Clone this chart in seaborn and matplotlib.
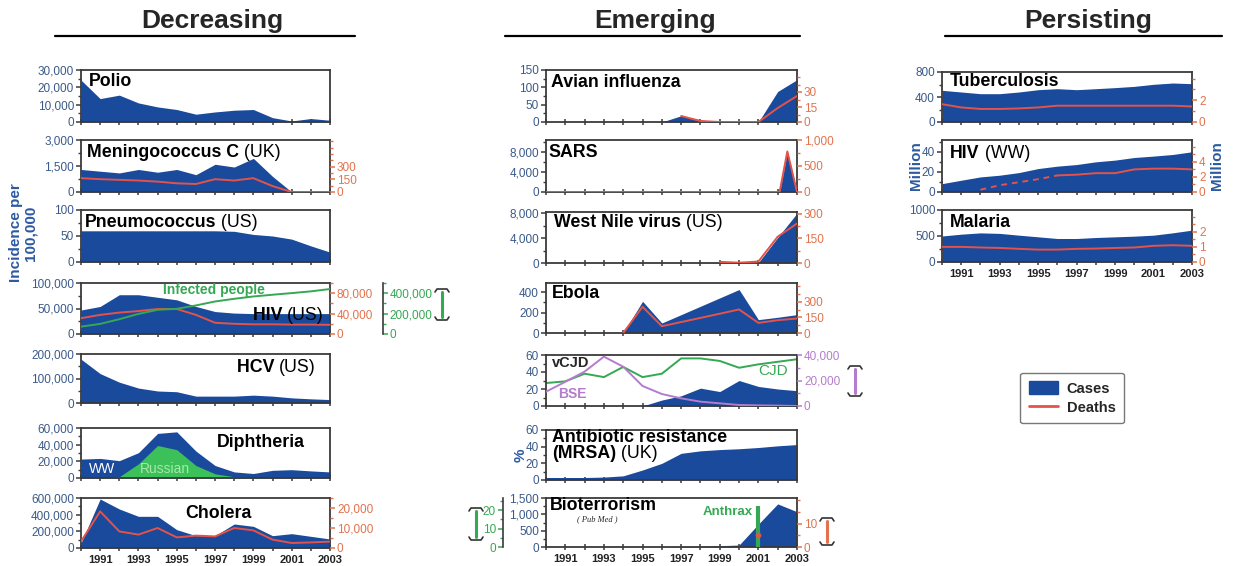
import matplotlib
matplotlib.use("Agg")
import matplotlib.pyplot as plt
import seaborn as sns
from matplotlib.ticker import FuncFormatter, MultipleLocator, AutoMinorLocator
from matplotlib.lines import Line2D
from matplotlib.patches import Patch
from matplotlib.text import Annotation

# ---------------- data ----------------
years = list(range(1990, 2004))
year_ticks = [1991, 1993, 1995, 1997, 1999, 2001, 2003]

polio_cases = [24200, 13500, 15500, 11000, 8700, 7200, 4500, 5800, 6800, 7200, 2500, 600, 2000, 1000]
mening_cases = [1300, 1200, 1100, 1300, 1140, 1300, 1000, 1600, 1440, 1940, 900, 0, 0, 0]
mening_deaths = [164, 152, 144, 136, 123, 103, 95, 152, 136, 164, 70, 0, 0, 0]
pneumo_cases = [60, 60, 60, 60, 60, 60, 60, 60, 59, 53, 50, 44, 31, 19]
hivus_cases = [47000, 54000, 77000, 77000, 72000, 67000, 54000, 44000, 41000, 40000, 40000, 40000, 40000, 40000]
hivus_deaths = [31000, 37500, 42000, 45000, 49000, 49000, 37500, 22000, 20000, 19000, 19000, 18500, 18500, 18000]
hivus_infected = [72000, 99000, 145000, 197000, 237000, 247000, 280000, 319000, 345000, 368000, 385000, 401000, 418000, 441000]
hcv_cases = [179000, 120000, 85000, 61000, 49000, 46000, 28000, 28000, 28000, 32000, 28000, 21000, 17000, 14000]
diph_ww = [22700, 23500, 20800, 30400, 53500, 55400, 32300, 15000, 7300, 5400, 9200, 10000, 8500, 7300]
diph_russian = [0, 0, 1500, 17000, 39000, 34000, 15000, 5000, 1500, 500, 200, 0, 0, 0]
cholera_cases = [60000, 588000, 468000, 380000, 380000, 220000, 148000, 148000, 288000, 260000, 148000, 172000, 140000, 108000]
cholera_deaths = [3300, 18300, 8300, 6700, 10000, 5300, 6200, 5800, 10000, 8800, 4200, 2500, 2800, 3200]

avian_cases = [0, 0, 0, 0, 0, 0, 0, 18, 6, 0, 0, 0, 88, 122]
avian_death_years = [1997, 1998, 1999, 2000, 2001, 2002, 2003]
avian_deaths = [6, 1, 0, 0, 0, 14, 26]
sars_years = [1990, 2002.1, 2002.5, 2003]
sars_cases = [0, 0, 8100, 0]
sars_deaths = [0, 0, 780, 0]
wnv_cases = [0, 0, 0, 0, 0, 0, 0, 0, 0, 60, 20, 70, 4100, 8000]
wnv_death_years = [1999, 2000, 2001, 2002, 2003]
wnv_deaths = [7, 2, 9, 160, 240]
ebola_cases = [0, 0, 0, 0, 0, 311, 98, 180, 262, 344, 426, 131, 154, 180]
ebola_death_years = [1994, 1995, 1996, 1997, 1998, 1999, 2000, 2001, 2002, 2003]
ebola_deaths = [0, 252, 65, 105, 145, 185, 226, 97, 123, 139]
vcjd_cases = [0, 0, 0, 0, 0, 0, 7, 12, 21, 17, 30, 23, 20, 18]
cjd_deaths = [27, 29, 38, 34, 46, 34, 38, 56, 56, 53, 45, 49, 52, 55]
bse_cases = [11200, 19000, 27000, 38700, 30800, 15700, 9400, 6000, 3400, 2100, 800, 500, 300, 0]
mrsa_pct = [3, 3, 3, 3.5, 5, 12, 20, 32, 35, 36.5, 37.5, 39, 41, 42.5]
bio_papers = [0, 0, 0, 0, 0, 0, 0, 10, 20, 40, 60, 700, 1320, 1080]
anthrax_year = [2001]
anthrax_cases = [22]
anthrax_deaths = [5]

tb_cases = [507, 480, 453, 453, 480, 517, 533, 517, 533, 550, 570, 603, 624, 613]
tb_deaths = [1.64, 1.34, 1.2, 1.2, 1.25, 1.34, 1.5, 1.5, 1.5, 1.5, 1.5, 1.5, 1.5, 1.43]
hivww_cases = [8.3, 11.7, 15, 16.7, 19.3, 23.3, 25.7, 27.3, 30, 31.7, 34.3, 35.7, 37.3, 40]
hivww_death_years = [1992, 1993, 1994, 1995, 1996, 1997, 1998, 1999, 2000, 2001, 2002, 2003]
hivww_deaths = [0.3, 0.9, 1.3, 1.7, 2.2, 2.3, 2.5, 2.5, 3.0, 3.1, 3.1, 3.0]
malaria_cases = [500, 535, 560, 550, 516, 484, 452, 452, 471, 484, 497, 516, 561, 613]
malaria_deaths = [1.0, 1.0, 0.96, 0.93, 0.87, 0.82, 0.82, 0.87, 0.89, 0.93, 0.96, 1.07, 1.11, 1.07]

# ---------------- style ----------------
sns.set_theme(style="ticks")
plt.rcParams["font.family"] = ["Liberation Sans", "DejaVu Sans"]

W, H = 1243, 566
fig = plt.figure(figsize=(W / 100, H / 100), dpi=100)
fig.patch.set_facecolor("white")

BLUE = "#1a4a9c"
RED = "#e4534a"
GREEN = "#35a853"
LGREEN = "#3cc05a"
PURPLE = "#b47ccc"
LTICK = "#3a5a8a"
RTICK = "#e2734e"
SPINE = "#3a3a3a"
YLAB = "#2c5aa0"
TSIZE = 12.8

fmt_int = FuncFormatter(lambda v, p: f"{int(round(v)):,}")
fmt_plain = FuncFormatter(lambda v, p: f"{int(round(v))}")


def P(x, y):
    return (x / W, 1 - y / H)


def panel(x0, y0, x1, y1, ylim, yticks, xlabels=False, fmt=fmt_int):
    ax = fig.add_axes([x0 / W, 1 - y1 / H, (x1 - x0) / W, (y1 - y0) / H])
    ax.set_xlim(1990, 2003)
    ax.set_ylim(*ylim)
    ax.set_yticks(yticks)
    ax.yaxis.set_major_formatter(fmt)
    ax.yaxis.set_minor_locator(AutoMinorLocator(2))
    ax.set_xticks(year_ticks)
    ax.xaxis.set_minor_locator(MultipleLocator(1))
    ax.tick_params(axis="x", which="both", direction="inout", length=5, width=1.1,
                   colors=SPINE, labelsize=8, pad=2.5)
    ax.tick_params(axis="y", which="major", direction="out", length=3.5, width=1.1,
                   colors=SPINE, labelcolor=LTICK, labelsize=8.5, pad=1.5)
    ax.tick_params(axis="y", which="minor", direction="out", length=2.5, width=1.0, colors=SPINE)
    if xlabels:
        ax.set_xticklabels([str(y) for y in year_ticks], fontweight="bold", color="#222222")
    else:
        ax.set_xticklabels([])
    for s in ax.spines.values():
        s.set_color(SPINE)
        s.set_linewidth(1.3)
    ax.grid(False)
    ax.set_facecolor("white")
    return ax


def twin(ax, ylim, yticks, color, side="right", offset=None, spine_visible=False):
    r = ax.twinx()
    for s in r.spines.values():
        s.set_visible(False)
    r.grid(False)
    if side == "left":
        r.yaxis.tick_left()
    if offset is not None:
        r.spines[side].set_position(("outward", offset))
    if spine_visible:
        r.spines[side].set_visible(True)
        r.spines[side].set_color(SPINE)
        r.spines[side].set_linewidth(1.2)
    r.set_ylim(*ylim)
    r.set_yticks(yticks)
    r.yaxis.set_major_formatter(fmt_int)
    r.yaxis.set_minor_locator(AutoMinorLocator(2))
    r.tick_params(axis="y", which="major", direction="out", length=3.5, width=1.1,
                  colors=color, labelsize=8.5, pad=1.5)
    r.tick_params(axis="y", which="minor", direction="out", length=2.5, width=1.0, colors=color)
    return r


def line(ax, x, y, color, lw=1.4, ylim=None):
    sns.lineplot(x=x, y=y, ax=ax, color=color, lw=lw)
    ax.set_xlabel("")
    ax.set_ylabel("")
    if ylim is not None:
        ax.set_ylim(*ylim)


def area(ax, x, y, color=BLUE):
    ax.fill_between(x, 0, y, color=color, lw=0, zorder=1)


def title(x, y, bold, reg=None, size=TSIZE, color="black", ha="left"):
    if ha == "left":
        t = fig.text(*P(x, y), bold, fontsize=size, fontweight="bold", ha="left",
                     va="baseline", color=color)
        if reg:
            fig.add_artist(Annotation(reg, xy=(1, 0), xycoords=t, fontsize=size, ha="left",
                                      va="bottom", color=color))
    else:
        t = fig.text(*P(x, y), reg, fontsize=size, ha="right", va="baseline", color=color)
        fig.add_artist(Annotation(bold + " ", xy=(0, 0), xycoords=t, fontsize=size,
                                  fontweight="bold", ha="right", va="bottom", color=color))


def dumbbell(x, y0, y1, color):
    fig.add_artist(Line2D([x / W, x / W], [1 - (y0 + 3) / H, 1 - (y1 - 3) / H],
                          color=color, lw=2.2, transform=fig.transFigure))
    for yy, d in [(y0, 1), (y1, -1)]:
        xs = [x - 7, x - 5, x + 5, x + 7]
        ys = [yy + 3 * d, yy, yy, yy + 3 * d]
        fig.add_artist(Line2D([v / W for v in xs], [1 - v / H for v in ys],
                              color="#333333", lw=1.2, transform=fig.transFigure))


LX0, LX1 = 81, 330
MX0, MX1 = 546, 797
RX0, RX1 = 942, 1192

# ---------------- Decreasing ----------------
ax = panel(LX0, 70, LX1, 122, (0, 30000), [0, 10000, 20000, 30000])
area(ax, years, polio_cases)
title(89, 86, "Polio")

ax = panel(LX0, 140, LX1, 192, (0, 3000), [0, 1500, 3000])
area(ax, years, mening_cases)
r = twin(ax, (0, 616), [0, 150, 300], RTICK)
line(r, years, mening_deaths, RED, ylim=(0, 616))
title(87, 157, "Meningococcus C", " (UK)")

ax = panel(LX0, 210, LX1, 262, (0, 100), [0, 50, 100])
area(ax, years, pneumo_cases)
title(85, 227, "Pneumococcus", " (US)")

ax = panel(LX0, 283, LX1, 334, (0, 100000), [0, 50000, 100000])
area(ax, years, hivus_cases)
r = twin(ax, (0, 100000), [0, 40000, 80000], RTICK)
line(r, years, hivus_deaths, RED, ylim=(0, 100000))
g = twin(ax, (0, 500000), [0, 200000, 400000], GREEN, offset=38, spine_visible=True)
line(g, years, hivus_infected, GREEN, lw=1.4, ylim=(0, 500000))
title(324, 320, "HIV", "(US)", ha="right")
fig.text(*P(163, 294), "Infected people", fontsize=10, fontweight="bold", color=GREEN,
         ha="left", va="baseline")
dumbbell(442, 289, 320, GREEN)

ax = panel(LX0, 354, LX1, 403, (0, 200000), [0, 100000, 200000])
area(ax, years, hcv_cases)
title(316, 372, "HCV", "(US)", ha="right")

ax = panel(LX0, 428, LX1, 478, (0, 60000), [0, 20000, 40000, 60000])
area(ax, years, diph_ww)
area(ax, years, diph_russian, color=LGREEN)
title(217, 447, "Diphtheria")
fig.text(*P(89, 473), "WW", fontsize=10, color="white", ha="left", va="baseline")
fig.text(*P(140, 473), "Russian", fontsize=10, color="#a8e8a8", ha="left", va="baseline")

ax = panel(LX0, 498, LX1, 548, (0, 600000), [0, 200000, 400000, 600000], xlabels=True)
area(ax, years, cholera_cases)
r = twin(ax, (0, 25000), [0, 10000, 20000], RTICK)
line(r, years, cholera_deaths, RED, ylim=(0, 25000))
title(185, 518, "Cholera")

# ---------------- Emerging ----------------
ax = panel(MX0, 70, MX1, 122, (0, 150), [0, 50, 100, 150])
area(ax, years, avian_cases)
r = twin(ax, (0, 52), [0, 15, 30], RTICK)
line(r, avian_death_years, avian_deaths, RED, ylim=(0, 52))
title(551, 87, "Avian influenza")

ax = panel(MX0, 140, MX1, 192, (0, 10300), [0, 4000, 8000])
area(ax, sars_years, sars_cases)
r = twin(ax, (0, 1000), [0, 500, 1000], RTICK)
line(r, sars_years, sars_deaths, RED, ylim=(0, 1000))
title(548, 157, "SARS")

ax = panel(MX0, 212, MX1, 263, (0, 8200), [0, 4000, 8000])
area(ax, years, wnv_cases)
r = twin(ax, (0, 310), [0, 150, 300], RTICK)
line(r, wnv_death_years, wnv_deaths, RED, ylim=(0, 310))
title(554, 227, "West Nile virus", " (US)")

ax = panel(MX0, 283, MX1, 333, (0, 490), [0, 200, 400])
area(ax, years, ebola_cases)
r = twin(ax, (0, 480), [0, 150, 300], RTICK)
line(r, ebola_death_years, ebola_deaths, RED, ylim=(0, 480))
title(552, 298, "Ebola")

ax = panel(MX0, 355, MX1, 406, (0, 60), [0, 20, 40, 60])
area(ax, years, vcjd_cases)
line(ax, years, cjd_deaths, GREEN, lw=1.4, ylim=(0, 60))
r = twin(ax, (0, 40000), [0, 20000, 40000], PURPLE)
line(r, years, bse_cases, PURPLE, lw=1.4, ylim=(0, 40000))
fig.text(*P(552, 367), "vCJD", fontsize=10.5, fontweight="bold", ha="left", va="baseline")
fig.text(*P(758, 375), "CJD", fontsize=11, color=GREEN, ha="left", va="baseline")
fig.text(*P(558, 398), "BSE", fontsize=10, color=PURPLE, fontweight="bold", ha="left", va="baseline")
dumbbell(855, 366, 396, PURPLE)

ax = panel(MX0, 430, MX1, 480, (0, 60), [0, 20, 40, 60])
area(ax, years, mrsa_pct)
title(552, 442, "Antibiotic resistance")
title(552, 458, "(MRSA)", " (UK)")

ax = panel(MX0, 498, MX1, 547, (0, 1500), [0, 500, 1000, 1500], xlabels=True)
area(ax, years, bio_papers)
g = twin(ax, (0, 26.5), [0, 10, 20], GREEN, side="left", offset=31, spine_visible=True)
g.vlines(anthrax_year, 0, anthrax_cases, color=GREEN, lw=3)
g.set_ylim(0, 26.5)
r = twin(ax, (0, 21), [0, 10], RTICK)
sns.scatterplot(x=anthrax_year, y=anthrax_deaths, ax=r, color=RED, s=14, edgecolor=RED, zorder=5)
r.set_ylim(0, 21)
r.set_xlabel("")
r.set_ylabel("")
title(550, 510, "Bioterrorism")
fig.text(*P(577, 521), "( Pub Med )", fontsize=6, fontstyle="italic", family="Liberation Serif",
         ha="left", va="baseline")
fig.text(*P(703, 515), "Anthrax", fontsize=9.5, fontweight="bold", color=GREEN, ha="left", va="baseline")
dumbbell(476, 508, 540, GREEN)
dumbbell(827, 518, 545, RTICK)

# ---------------- Persisting ----------------
ax = panel(RX0, 72, RX1, 122, (0, 800), [0, 400, 800])
area(ax, years, tb_cases)
r = twin(ax, (0, 4.6), [0, 2], RTICK)
line(r, years, tb_deaths, RED, ylim=(0, 4.6))
title(950, 86, "Tuberculosis")

ax = panel(RX0, 140, RX1, 192, (0, 51.7), [0, 20, 40])
area(ax, years, hivww_cases)
r = twin(ax, (0, 6.9), [0, 2, 4], RTICK)
line(r, hivww_death_years[:5], hivww_deaths[:5], RED)
r.lines[-1].set_linestyle((0, (3, 2.5)))
line(r, hivww_death_years[4:], hivww_deaths[4:], RED, ylim=(0, 6.9))
title(950, 158, "HIV", " (WW)")

ax = panel(RX0, 210, RX1, 262, (0, 1000), [0, 500, 1000], xlabels=True, fmt=fmt_plain)
area(ax, years, malaria_cases)
r = twin(ax, (0, 3.44), [0, 1, 2], RTICK)
line(r, years, malaria_deaths, RED, ylim=(0, 3.44))
title(950, 227, "Malaria")

# ---------------- axis titles ----------------
fig.text(*P(23, 233), "Incidence per\n100,000", rotation=90, fontsize=11, fontweight="bold",
         color=YLAB, ha="center", va="center", multialignment="center", linespacing=1.0)
fig.text(*P(916, 166), "Million", rotation=90, fontsize=11, fontweight="bold", color=YLAB,
         ha="center", va="center")
fig.text(*P(1217, 166), "Million", rotation=90, fontsize=11, fontweight="bold", color=YLAB,
         ha="center", va="center")
fig.text(*P(521, 455), "%", rotation=90, fontsize=11, fontweight="bold", color=YLAB,
         ha="center", va="center")

# ---------------- column headers ----------------
for cx, x0, x1, name in [(212, 55, 355, "Decreasing"), (655, 505, 800, "Emerging"),
                          (1088, 945, 1222, "Persisting")]:
    fig.text(*P(cx, 28), name, fontsize=19, fontweight="bold", ha="center", va="baseline")
    fig.add_artist(Line2D([x0 / W, x1 / W], [1 - 36 / H, 1 - 36 / H], color="black", lw=1.6,
                          transform=fig.transFigure))

# ---------------- legend ----------------
handles = [Patch(facecolor=BLUE, edgecolor=BLUE), Line2D([], [], color=RED, lw=2)]
fig.legend(handles, ["Cases", "Deaths"], loc="center", bbox_to_anchor=P(1072, 398),
           frameon=True, fancybox=True, edgecolor="#555555", prop={"weight": "bold", "size": 10.5},
           handlelength=2.0, handleheight=1.0, borderpad=0.6, labelspacing=0.3, handletextpad=0.6)

fig.savefig("out.png", dpi=100, facecolor="white")
